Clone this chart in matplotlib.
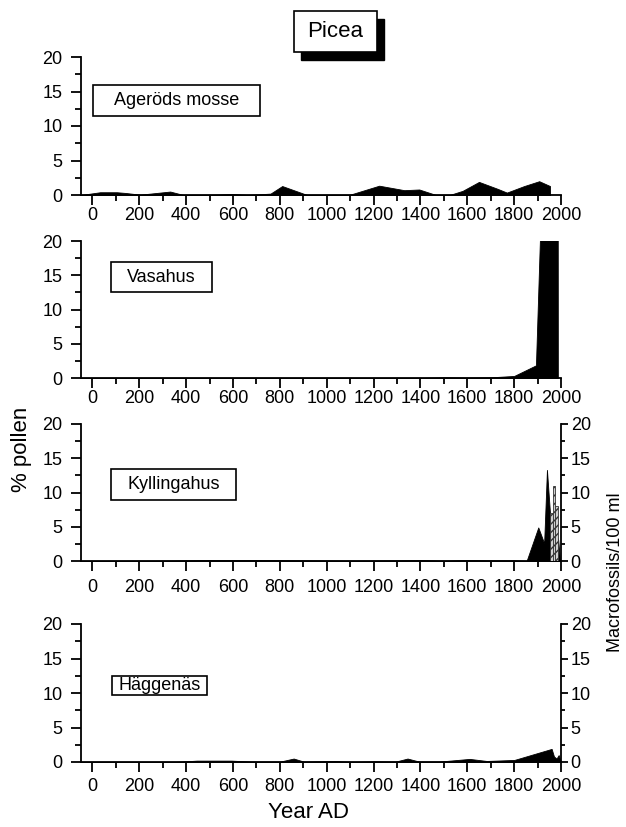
import matplotlib
matplotlib.use("Agg")
import matplotlib.pyplot as plt
from matplotlib.patches import Rectangle
from matplotlib.ticker import MultipleLocator

plt.rcParams['font.family'] = ['Liberation Sans', 'DejaVu Sans']

# ---------------- data ----------------
sites = ["Ageröds mosse", "Vasahus", "Kyllingahus", "Häggenäs"]

agerod_year = [-50, 33, 104, 140, 204, 332, 389, 489, 603, 660, 760, 810, 917, 1002, 1095,
               1224, 1331, 1395, 1467, 1524, 1580, 1650, 1729, 1769, 1843, 1907, 1953, 1953.5]
agerod_pct = [0.0, 0.4, 0.4, 0.3, 0.05, 0.5, 0.0, 0.0, 0.15, 0.0, 0.2, 1.3, 0.0, 0.0, 0.0,
              1.35, 0.7, 0.8, 0.0, 0.0, 0.6, 1.9, 0.9, 0.35, 1.3, 2.0, 1.3, 0.0]

vasahus_year = [-50, 1400, 1501, 1600, 1700, 1800, 1893, 1921, 1986, 1986.5]
vasahus_pct = [0.0, 0.0, 0.1, 0.05, 0.1, 0.3, 1.85, 32.0, 30.0, 0.0]

kylling_year = [-50, 300, 500, 700, 900, 1100, 1300, 1400, 1500, 1600, 1700, 1800, 1853,
                1903, 1928, 1940, 1953, 1965, 1978, 1988, 1995, 1996]
kylling_pct = [0.0, 0.05, 0.15, 0.15, 0.1, 0.05, 0.1, 0.15, 0.05, 0.15, 0.1, 0.1, 0.0,
               4.9, 2.6, 13.3, 7.0, 5.0, 4.0, 3.1, 0.3, 0.0]

kylling_macro_year = [1958, 1970, 1982]
kylling_macro = [7.0, 11.0, 8.0]

haggen_year = [-50, 350, 446, 593, 682, 800, 859, 903, 976, 1035, 1109, 1205, 1293, 1345,
               1396, 1477, 1610, 1683, 1801, 1960, 1970, 1981, 1990, 1997, 2000]
haggen_pct = [0.0, 0.0, 0.2, 0.2, 0.05, 0.05, 0.5, 0.05, 0.1, 0.15, 0.0, 0.1, 0.05, 0.5,
              0.05, 0.05, 0.45, 0.15, 0.3, 1.9, 0.8, 0.5, 1.0, 0.3, 0.0]

x_ticks = [0, 200, 400, 600, 800, 1000, 1200, 1400, 1600, 1800, 2000]
y_ticks = [0, 5, 10, 15, 20]

series = [(agerod_year, agerod_pct), (vasahus_year, vasahus_pct),
          (kylling_year, kylling_pct), (haggen_year, haggen_pct)]

# ---------------- layout ----------------
W, H = 626, 827
fig = plt.figure(figsize=(W / 100, H / 100), dpi=100)

def fx(px):
    return px / W

def fy(py):
    return 1 - py / H

left_px, right_px = 80.7, 561.0
panels = [(57, 195), (241, 378), (424, 561), (624, 762)]
xpads = [1.5, 1.5, 6.0, 4.5]
boxes = [(93, 85, 260, 116), (111, 262, 212, 292), (111, 469, 236, 500), (112, 676, 207, 695)]
FS = 13

def style_axis(ax, pad):
    ax.set_xlim(-50, 2000)
    ax.set_ylim(0, 20)
    ax.set_xticks(x_ticks)
    ax.set_yticks(y_ticks)
    ax.xaxis.set_minor_locator(MultipleLocator(100))
    ax.yaxis.set_minor_locator(MultipleLocator(2.5))
    for s in ['top', 'right']:
        ax.spines[s].set_visible(False)
    for s in ['left', 'bottom']:
        ax.spines[s].set_linewidth(1.3)
    ax.tick_params(axis='both', which='major', direction='out', length=7, width=1.3, labelsize=FS)
    ax.tick_params(axis='both', which='minor', direction='out', length=4, width=1.3)
    ax.tick_params(axis='x', which='major', pad=pad)
    ax.tick_params(axis='y', which='major', pad=6)

for i, ((top, bot), (xs, ys)) in enumerate(zip(panels, series)):
    ax = fig.add_axes([fx(left_px), fy(bot), fx(right_px) - fx(left_px), (bot - top) / H])
    style_axis(ax, xpads[i])
    ax.fill_between(xs, 0, ys, color='black', linewidth=0.6, zorder=2)
    ax.patch.set_alpha(0)
    if i >= 2:
        ax2 = ax.twinx()
        ax2.set_ylim(0, 20)
        ax2.set_yticks(y_ticks)
        ax2.yaxis.set_minor_locator(MultipleLocator(2.5))
        for s in ['top', 'left', 'bottom']:
            ax2.spines[s].set_visible(False)
        ax2.spines['right'].set_linewidth(1.3)
        ax2.tick_params(axis='y', which='major', direction='out', length=5, width=1.3,
                        labelsize=FS, pad=2)
        ax2.tick_params(axis='y', which='minor', direction='out', length=3, width=1.3)
        if i == 2:
            ax2.bar(kylling_macro_year, kylling_macro, width=12, facecolor='#cfcfcf',
                    edgecolor='#333333', hatch='////', linewidth=0.6, zorder=3)
    # site label box
    x0, y0, x1, y1 = boxes[i]
    fig.add_artist(Rectangle((fx(x0), fy(y1)), fx(x1) - fx(x0), (y1 - y0) / H,
                             transform=fig.transFigure, facecolor='white',
                             edgecolor='black', linewidth=1.2, zorder=5))
    fig.text(fx((x0 + x1) / 2), fy((y0 + y1) / 2), sites[i], ha='center', va='center',
             fontsize=FS, zorder=6)

# title box with shadow
fig.add_artist(Rectangle((fx(301), fy(60)), fx(384) - fx(301), 41 / H,
                         transform=fig.transFigure, facecolor='black',
                         edgecolor='black', linewidth=1, zorder=5))
fig.add_artist(Rectangle((fx(294), fy(52)), fx(377) - fx(294), 41 / H,
                         transform=fig.transFigure, facecolor='white',
                         edgecolor='black', linewidth=1.2, zorder=6))
fig.text(fx(335.5), fy(31.5), "Picea", ha='center', va='center', fontsize=16, zorder=7)

fig.text(fx(308), fy(813), "Year AD", ha='center', va='center', fontsize=16)
fig.text(fx(22), fy(449), "% pollen", ha='center', va='center', fontsize=16, rotation=90)
fig.text(fx(615), fy(572), "Macrofossils/100 ml", ha='center', va='center',
         fontsize=13, rotation=90)

fig.savefig("out.png", dpi=100)
